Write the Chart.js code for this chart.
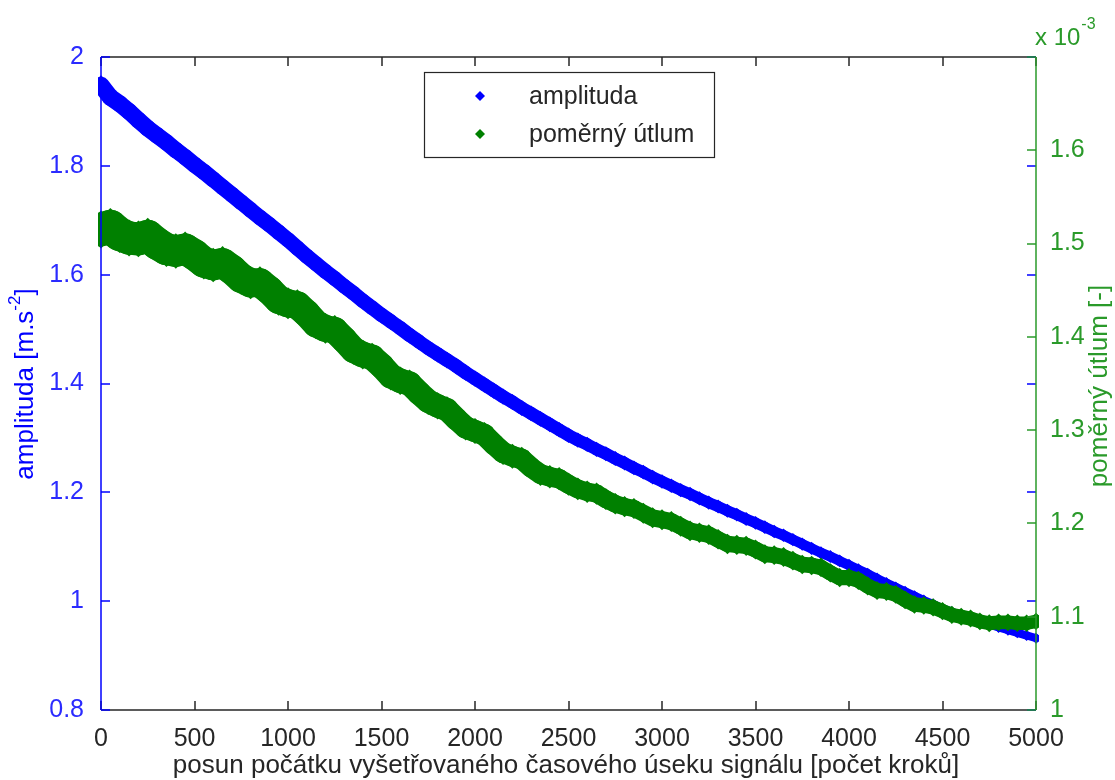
<!DOCTYPE html>
<html>
<head>
<meta charset="utf-8">
<script src="https://cdn.jsdelivr.net/npm/chart.js@4.4.1/dist/chart.umd.min.js"></script>
<style>
  body { margin: 0; background: #fff; }
  #c { display: block; }
</style>
</head>
<body>
<canvas id="c" width="1115" height="780"></canvas>
<script>
// posun (steps) every 50 steps
const steps = [
  0, 50, 100, 150, 200, 250, 300, 350, 400, 450,
  500, 550, 600, 650, 700, 750, 800, 850, 900, 950,
  1000, 1050, 1100, 1150, 1200, 1250, 1300, 1350, 1400, 1450,
  1500, 1550, 1600, 1650, 1700, 1750, 1800, 1850, 1900, 1950,
  2000, 2050, 2100, 2150, 2200, 2250, 2300, 2350, 2400, 2450,
  2500, 2550, 2600, 2650, 2700, 2750, 2800, 2850, 2900, 2950,
  3000, 3050, 3100, 3150, 3200, 3250, 3300, 3350, 3400, 3450,
  3500, 3550, 3600, 3650, 3700, 3750, 3800, 3850, 3900, 3950,
  4000, 4050, 4100, 4150, 4200, 4250, 4300, 4350, 4400, 4450,
  4500, 4550, 4600, 4650, 4700, 4750, 4800, 4850, 4900, 4950,
  5000
];

// amplituda [m.s^-2]
const amplituda = [
  1.948, 1.926, 1.914, 1.900, 1.884, 1.869, 1.856, 1.843, 1.829, 1.816,
  1.802, 1.789, 1.775, 1.761, 1.747, 1.733, 1.719, 1.705, 1.692, 1.678,
  1.664, 1.649, 1.634, 1.620, 1.606, 1.593, 1.579, 1.566, 1.552, 1.539,
  1.526, 1.514, 1.502, 1.489, 1.477, 1.465, 1.454, 1.443, 1.432, 1.420,
  1.409, 1.398, 1.387, 1.376, 1.366, 1.355, 1.345, 1.335, 1.325, 1.315,
  1.305, 1.296, 1.288, 1.279, 1.271, 1.262, 1.254, 1.245, 1.237, 1.228,
  1.220, 1.212, 1.204, 1.197, 1.189, 1.181, 1.174, 1.166, 1.159, 1.151,
  1.144, 1.136, 1.128, 1.121, 1.113, 1.105, 1.097, 1.089, 1.082, 1.074,
  1.066, 1.058, 1.050, 1.041, 1.033, 1.025, 1.017, 1.009, 1.001, 0.994,
  0.986, 0.980, 0.974, 0.968, 0.963, 0.957, 0.952, 0.947, 0.942, 0.937,
  0.932
];

// pomerny utlum, in units of 10^-3
const utlum = [
  1.515, 1.518, 1.510, 1.506, 1.505, 1.508, 1.500, 1.494, 1.492, 1.494,
  1.488, 1.480, 1.477, 1.479, 1.472, 1.463, 1.458, 1.458, 1.450, 1.440,
  1.436, 1.434, 1.425, 1.414, 1.409, 1.407, 1.397, 1.386, 1.381, 1.378,
  1.369, 1.358, 1.353, 1.350, 1.340, 1.331, 1.326, 1.322, 1.312, 1.303,
  1.299, 1.295, 1.285, 1.276, 1.272, 1.269, 1.260, 1.253, 1.250, 1.248,
  1.242, 1.237, 1.234, 1.232, 1.226, 1.221, 1.218, 1.216, 1.211, 1.206,
  1.204, 1.202, 1.197, 1.192, 1.190, 1.188, 1.183, 1.178, 1.177, 1.176,
  1.172, 1.167, 1.166, 1.164, 1.160, 1.156, 1.155, 1.153, 1.147, 1.142,
  1.142, 1.139, 1.133, 1.128, 1.127, 1.124, 1.118, 1.113, 1.112, 1.110,
  1.106, 1.102, 1.100, 1.098, 1.095, 1.093, 1.094, 1.094, 1.093, 1.093,
  1.095
];

const seriesNames = ["amplituda", "poměrný útlum"];
const blue = "rgb(0,0,255)";
const green = "rgb(0,128,0)";
const axisGreen = "#2a9a2a";
const dark = "#262626";
const font = "'Liberation Sans', Arial, sans-serif";

// band thickness of the dense marker cloud, by position
function blueWidth(x) { return 17 - x * 0.0018; }
function greenWidth(x) {
  if (x < 3000) return Math.max(17, 34 - x * 0.006);
  return 17 - (x - 3000) * 0.0018;
}

// axes frame, inward ticks, titles and legend (MATLAB look)
const frame = {
  id: "frame",
  afterDraw(chart) {
    const ctx = chart.ctx;
    const a = chart.chartArea;
    const xs = chart.scales.x, yl = chart.scales.y, yr = chart.scales.y2;
    const L = Math.round(a.left), R = Math.round(a.right);
    const T = Math.round(a.top), B = Math.round(a.bottom);
    const tl = 9;
    ctx.save();
    ctx.lineWidth = 1.5;

    // x ticks top and bottom
    ctx.strokeStyle = dark;
    xs.ticks.forEach(t => {
      const px = Math.round(xs.getPixelForValue(t.value));
      ctx.beginPath();
      ctx.moveTo(px, B); ctx.lineTo(px, B - tl);
      ctx.stroke();
      ctx.beginPath();
      ctx.moveTo(px, T); ctx.lineTo(px, T + tl);
      ctx.stroke();
    });
    ctx.beginPath();
    ctx.moveTo(L, T); ctx.lineTo(R, T);
    ctx.moveTo(L, B); ctx.lineTo(R, B);
    ctx.stroke();

    // left ticks (blue) on both sides
    ctx.strokeStyle = blue;
    yl.ticks.forEach(t => {
      const py = Math.round(yl.getPixelForValue(t.value));
      ctx.beginPath();
      ctx.moveTo(L, py); ctx.lineTo(L + tl, py);
      ctx.stroke();
      ctx.beginPath();
      ctx.moveTo(R, py); ctx.lineTo(R - tl, py);
      ctx.stroke();
    });
    ctx.beginPath();
    ctx.moveTo(L, T); ctx.lineTo(L, B);
    ctx.stroke();

    // right ticks (green)
    ctx.strokeStyle = axisGreen;
    yr.ticks.forEach(t => {
      const py = Math.round(yr.getPixelForValue(t.value));
      ctx.beginPath();
      ctx.moveTo(R, py); ctx.lineTo(R - tl, py);
      ctx.stroke();
    });
    ctx.beginPath();
    ctx.moveTo(R, T); ctx.lineTo(R, B);
    ctx.stroke();

    // x 10^-3
    ctx.fillStyle = axisGreen;
    ctx.textBaseline = "alphabetic";
    ctx.textAlign = "left";
    ctx.font = "24px " + font;
    ctx.fillText("x 10", 1035, 45);
    const w10 = ctx.measureText("x 10").width;
    ctx.font = "16px " + font;
    ctx.fillText("-3", 1035 + w10 + 1, 29);

    // left title with superscript
    ctx.fillStyle = blue;
    ctx.save();
    ctx.translate(33, 384);
    ctx.rotate(-Math.PI / 2);
    const p1 = "amplituda [m.s", p3 = "]";
    ctx.font = "26px " + font; const w1 = ctx.measureText(p1).width, w3 = ctx.measureText(p3).width;
    ctx.font = "17px " + font; const w2 = ctx.measureText("-2").width;
    const sx = -(w1 + w2 + w3) / 2;
    ctx.font = "26px " + font; ctx.fillText(p1, sx, 0);
    ctx.font = "17px " + font; ctx.fillText("-2", sx + w1, -13);
    ctx.font = "26px " + font; ctx.fillText(p3, sx + w1 + w2, 0);
    ctx.restore();

    // right title
    ctx.fillStyle = axisGreen;
    ctx.save();
    ctx.translate(1107, 386);
    ctx.rotate(-Math.PI / 2);
    ctx.textAlign = "center";
    ctx.font = "26px " + font;
    ctx.fillText("poměrný útlum [-]", 0, 0);
    ctx.restore();

    // x title
    ctx.fillStyle = dark;
    ctx.textAlign = "center";
    ctx.font = "26px " + font;
    ctx.fillText("posun počátku vyšetřovaného časového úseku signálu [počet kroků]", 566, 773);

    // legend
    ctx.fillStyle = "#fff";
    ctx.fillRect(424, 72, 290, 85);
    ctx.lineWidth = 1.2;
    ctx.strokeStyle = dark;
    ctx.strokeRect(424.5, 72.5, 290, 85);
    const cols = [blue, green];
    seriesNames.forEach((name, i) => {
      const cy = 96 + i * 38;
      ctx.fillStyle = cols[i];
      ctx.beginPath();
      ctx.moveTo(480, cy - 5); ctx.lineTo(485, cy); ctx.lineTo(480, cy + 5); ctx.lineTo(475, cy);
      ctx.closePath(); ctx.fill();
      ctx.fillStyle = dark;
      ctx.textAlign = "left";
      ctx.textBaseline = "middle";
      ctx.font = "25px " + font;
      ctx.fillText(name, 529, cy + 1);
    });
    ctx.restore();
  }
};

const oneDecimal = v => String(Math.round(v * 10) / 10);

new Chart(document.getElementById("c"), {
  type: "scatter",
  data: {
    datasets: [
      {
        label: seriesNames[0],
        data: steps.map((s, i) => ({ x: s, y: amplituda[i] })),
        yAxisID: "y",
        showLine: true,
        borderColor: blue,
        backgroundColor: blue,
        borderCapStyle: "round",
        borderJoinStyle: "round",
        pointStyle: "rectRot",
        pointRadius: c => blueWidth(c.parsed.x) / 2 + 1.5,
        pointBorderWidth: 0,
        order: 2,
        clip: 3,
        segment: { borderWidth: c => blueWidth(c.p0.parsed.x) },
      },
      {
        label: seriesNames[1],
        data: steps.map((s, i) => ({ x: s, y: utlum[i] })),
        yAxisID: "y2",
        showLine: true,
        borderColor: green,
        backgroundColor: green,
        borderCapStyle: "round",
        borderJoinStyle: "round",
        pointStyle: "rectRot",
        pointRadius: c => greenWidth(c.parsed.x) / 2 + 2,
        pointBorderWidth: 0,
        order: 1,
        clip: 3,
        segment: { borderWidth: c => greenWidth(c.p0.parsed.x) },
      },
    ],
  },
  options: {
    responsive: false,
    animation: false,
    devicePixelRatio: 1,
    layout: { padding: { top: 57, left: 0, right: 0, bottom: 0 } },
    plugins: { legend: { display: false }, tooltip: { enabled: false } },
    scales: {
      x: {
        type: "linear",
        min: 0,
        max: 5000,
        grid: { display: false },
        border: { display: false },
        afterFit: s => { s.height = 70; },
        ticks: {
          stepSize: 500,
          autoSkip: false,
          maxRotation: 0,
          padding: 6,
          color: dark,
          font: { family: font, size: 25 },
          callback: v => String(v),
        },
      },
      y: {
        position: "left",
        min: 0.8,
        max: 2,
        grid: { display: false },
        border: { display: false },
        afterFit: s => { s.width = 101; },
        ticks: {
          stepSize: 0.2,
          autoSkip: false,
          padding: 9,
          color: "#2b2bff",
          font: { family: font, size: 25 },
          callback: oneDecimal,
        },
      },
      y2: {
        position: "right",
        min: 1,
        max: 1.7,
        grid: { display: false },
        border: { display: false },
        afterFit: s => { s.width = 79; },
        ticks: {
          stepSize: 0.1,
          autoSkip: false,
          padding: 6,
          color: axisGreen,
          font: { family: font, size: 25 },
          callback: v => (v > 1.65 ? "" : oneDecimal(v)),
        },
      },
    },
  },
  plugins: [frame],
});
</script>
</body>
</html>
